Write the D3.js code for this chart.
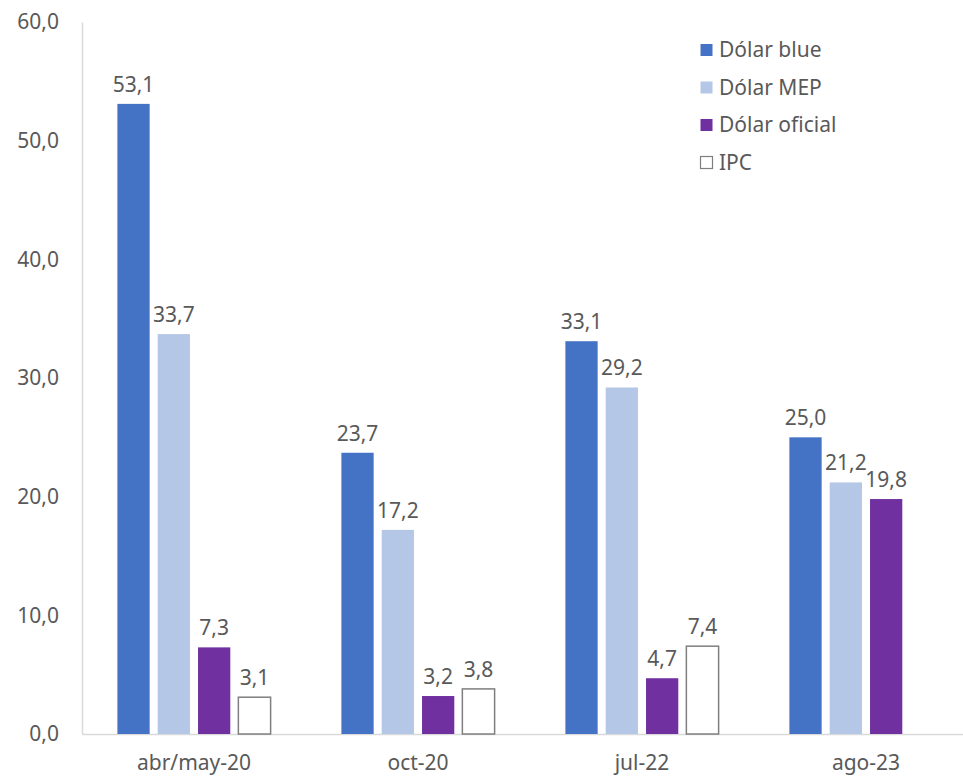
<!DOCTYPE html>
<html><head><meta charset="utf-8">
<script src="https://cdn.jsdelivr.net/npm/d3@7"></script>
<style>body{margin:0;background:#fff;} svg{display:block;}</style>
</head><body>
<svg id="chart" width="963" height="776"></svg>
<script>
const categories = ["abr/may-20", "oct-20", "jul-22", "ago-23"];
const seriesNames = ["Dólar blue", "Dólar MEP", "Dólar oficial", "IPC"];
const dolarBlue = [53.1, 23.7, 33.1, 25.0];
const dolarMEP = [33.7, 17.2, 29.2, 21.2];
const dolarOficial = [7.3, 3.2, 4.7, 19.8];
const ipc = [3.1, 3.8, 7.4, null];
const yTicks = [0, 10, 20, 30, 40, 50, 60];

const seriesValues = [dolarBlue, dolarMEP, dolarOficial, ipc];
const fills = ["#4472C4", "#B4C7E7", "#7030A0", "#FFFFFF"];
const strokes = ["none", "none", "none", "#7F7F7F"];
const font = "'Noto Sans', sans-serif";
const fs = 21;
const textColor = "#595959";
const fmt = v => d3.format(".1f")(v).replace(".", ",");

const svg = d3.select("#chart");
const x0 = d3.scaleBand().domain(categories).range([82, 978]).paddingInner(0.28).paddingOuter(0.14);
const x1 = d3.scaleBand().domain(seriesNames).range([0, x0.bandwidth()]).paddingInner(0.2).paddingOuter(0.1);
const y = d3.scaleLinear().domain([0, 60]).range([734, 22]);

// axes
const yAxis = svg.append("g").attr("transform", "translate(82,0)")
  .call(d3.axisLeft(y).tickValues(yTicks).tickFormat(fmt).tickSize(0).tickPadding(23));
yAxis.select(".domain").attr("stroke", "#D9D9D9").attr("stroke-width", 1.5);
yAxis.selectAll("text").attr("font-family", font).attr("font-size", fs).attr("fill", textColor);

const xAxis = svg.append("g").attr("transform", "translate(0,734)")
  .call(d3.axisBottom(x0).tickSize(0).tickPadding(21));
xAxis.select(".domain").attr("stroke", "#D9D9D9").attr("stroke-width", 1.5);
xAxis.selectAll("text").attr("font-family", font).attr("font-size", fs).attr("fill", textColor);

// bars
const data = [];
categories.forEach((c, i) => seriesNames.forEach((s, j) => {
  const v = seriesValues[j][i];
  if (v !== null) data.push({c, s, j, v});
}));
const g = svg.append("g");
g.selectAll("rect").data(data).join("rect")
  .attr("x", d => x0(d.c) + x1(d.s))
  .attr("y", d => y(d.v))
  .attr("width", x1.bandwidth())
  .attr("height", d => y(0) - y(d.v))
  .attr("fill", d => fills[d.j])
  .attr("stroke", d => strokes[d.j])
  .attr("stroke-width", 1.5);
g.selectAll("text").data(data).join("text")
  .attr("x", d => x0(d.c) + x1(d.s) + x1.bandwidth() / 2)
  .attr("y", d => y(d.v) - 12)
  .attr("text-anchor", "middle")
  .attr("font-family", font).attr("font-size", fs).attr("fill", textColor)
  .text(d => fmt(d.v));

// legend
const leg = svg.append("g").attr("transform", "translate(700,50)");
seriesNames.forEach((s, j) => {
  const row = leg.append("g").attr("transform", `translate(0,${j * 37.5})`);
  row.append("rect").attr("x", 0.5).attr("y", -6).attr("width", 12).attr("height", 12)
    .attr("fill", fills[j]).attr("stroke", j === 3 ? "#7F7F7F" : "none").attr("stroke-width", 1.2);
  row.append("text").attr("x", 19).attr("y", 0).attr("dy", "0.35em")
    .attr("font-family", font).attr("font-size", fs).attr("fill", textColor).text(s);
});
</script>
</body></html>
